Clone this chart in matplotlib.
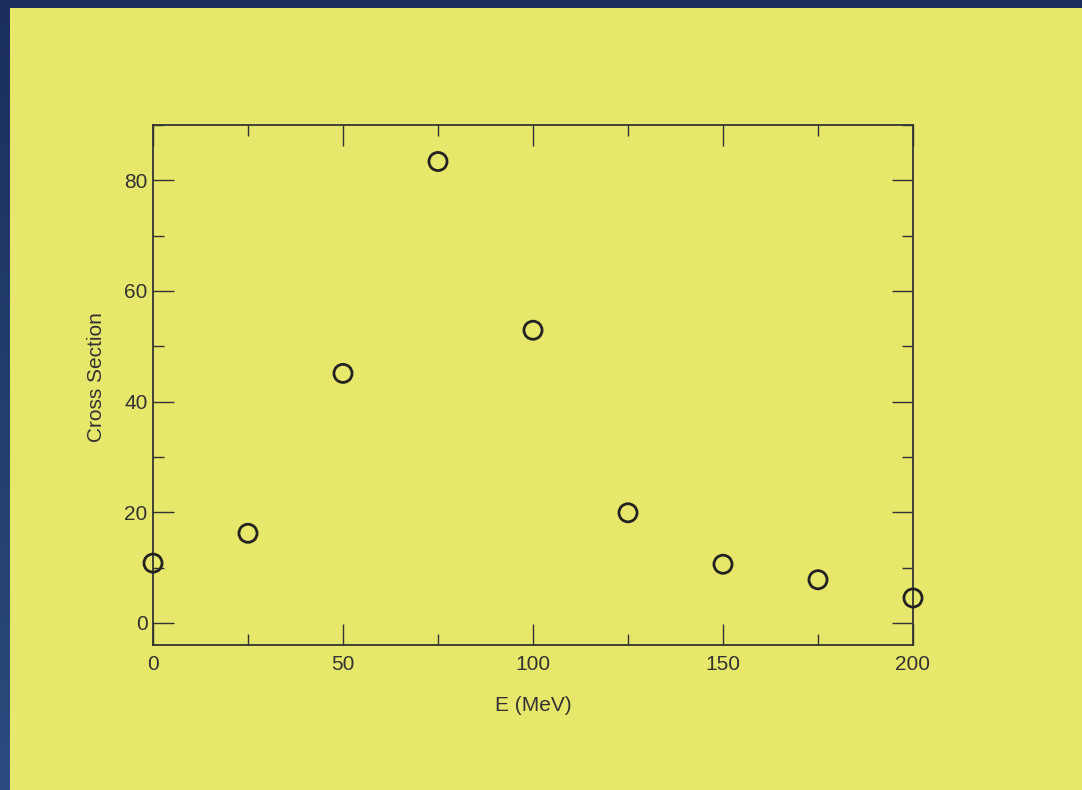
import numpy as np
import matplotlib.pyplot as plt
from matplotlib.patches import Rectangle
from matplotlib.ticker import MultipleLocator

plt.rcParams['font.family'] = ['Liberation Sans', 'DejaVu Sans']

energy = [0, 25, 50, 75, 100, 125, 150, 175, 200]
cross_section = [10.8, 16.2, 45.1, 83.4, 52.9, 19.9, 10.6, 7.8, 4.5]

W, H = 1082, 790
fig = plt.figure(figsize=(W / 100, H / 100), dpi=100)

# background: blue frame with slight vertical gradient, yellow panel
bg = fig.add_axes([0, 0, 1, 1])
grad = np.linspace(0, 1, 256).reshape(-1, 1)
top = np.array([0x1a, 0x2f, 0x5e]) / 255
bot = np.array([0x2a, 0x4c, 0x7e]) / 255
img = top + (bot - top) * grad[:, :, None]
bg.imshow(img, extent=[0, W, 0, H], aspect='auto', origin='upper')
bg.add_patch(Rectangle((10, 0), W - 10, H - 8, color='#e7e76b', lw=0))
bg.set_xlim(0, W)
bg.set_ylim(0, H)
bg.axis('off')

ax = fig.add_axes([153 / W, 1 - 645 / H, (913 - 153) / W, (645 - 125) / H])
ax.set_facecolor('none')
ax.scatter(energy, cross_section, s=170, facecolors='none',
           edgecolors='#222222', linewidths=2, zorder=3, clip_on=False)

ax.set_xlim(0, 200)
ax.set_ylim(-4, 90)
ax.xaxis.set_major_locator(MultipleLocator(50))
ax.xaxis.set_minor_locator(MultipleLocator(25))
ax.yaxis.set_major_locator(MultipleLocator(20))
ax.yaxis.set_minor_locator(MultipleLocator(10))
ax.tick_params(which='both', direction='in', top=True, right=True,
               color='#333333', labelcolor='#333333', labelsize=15)
ax.tick_params(which='major', length=15, width=1, pad=4)
ax.tick_params(axis='x', which='major', pad=7)
ax.tick_params(which='minor', length=8, width=1)
for s in ax.spines.values():
    s.set_color('#333333')
    s.set_linewidth(1.3)

ax.set_xlabel('E (MeV)', fontsize=15, color='#333333', labelpad=16)
ax.set_ylabel('Cross Section', fontsize=15, color='#333333', labelpad=13)
ax.yaxis.label.set_y(0.515)

fig.savefig('out.png', dpi=100)
